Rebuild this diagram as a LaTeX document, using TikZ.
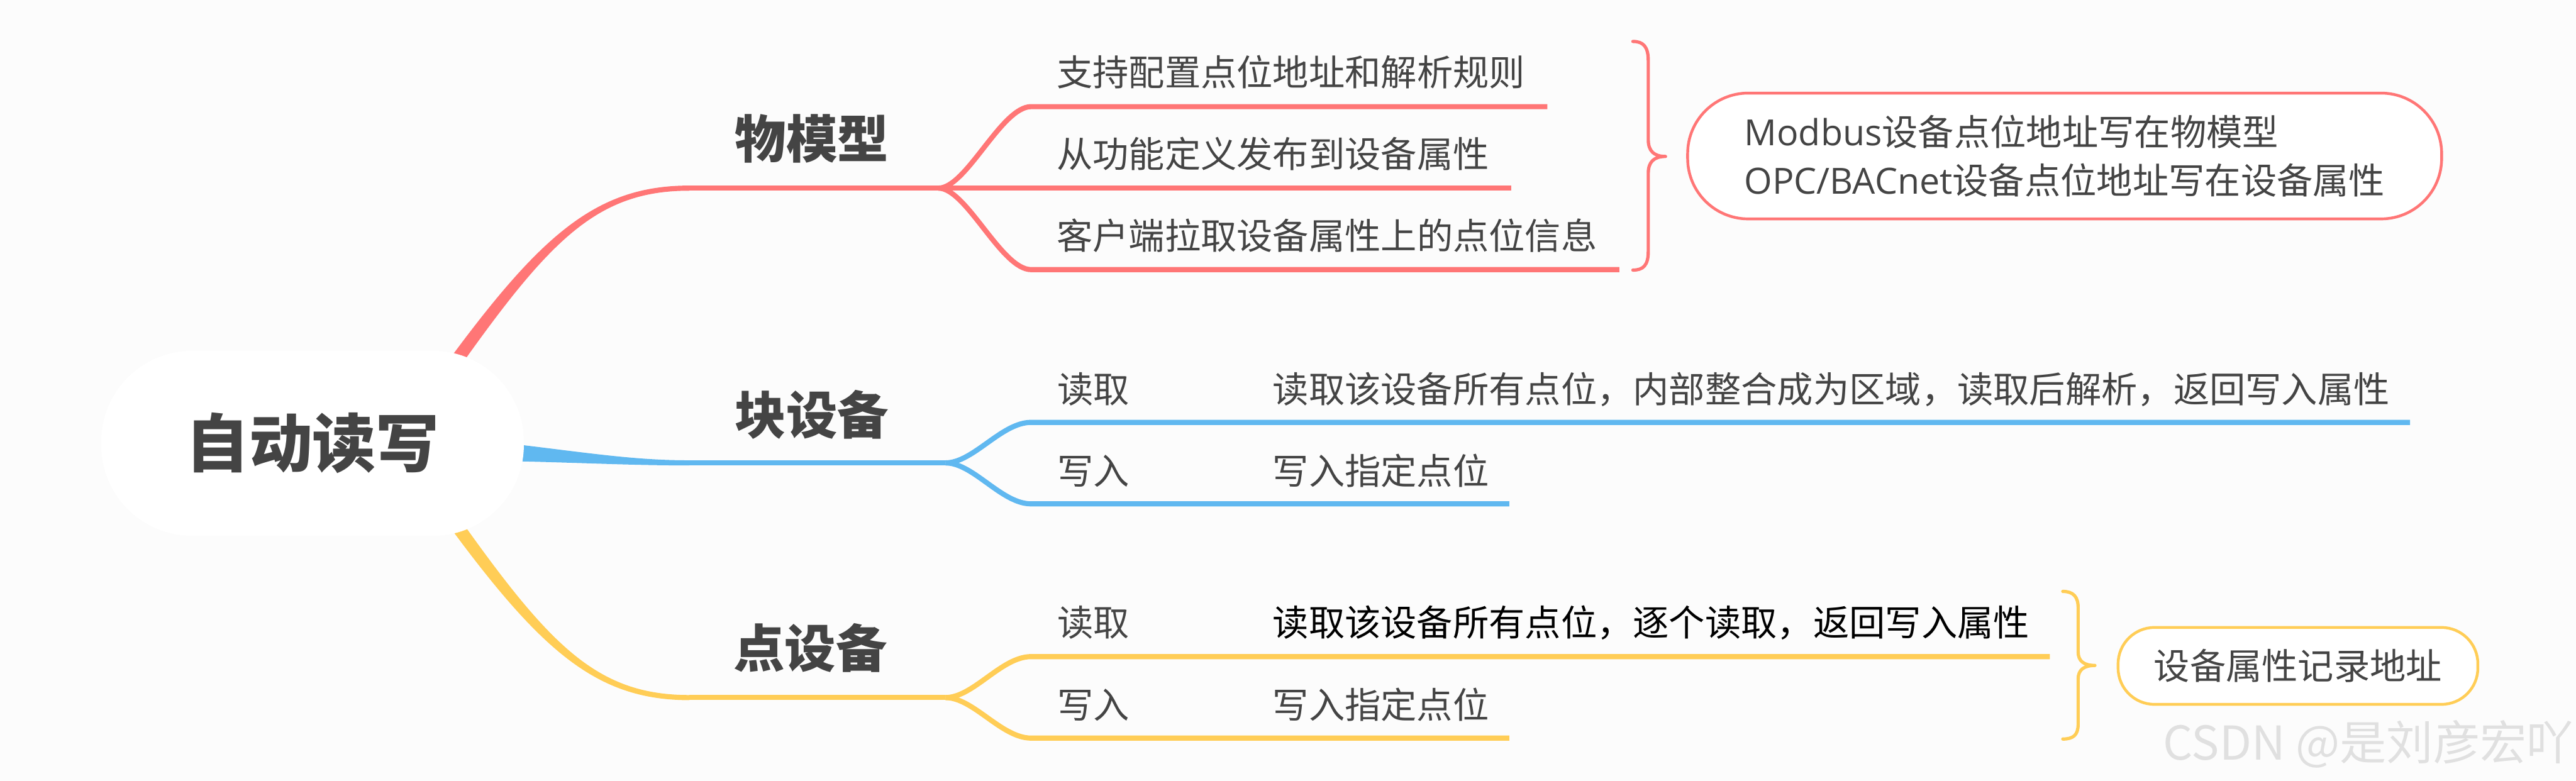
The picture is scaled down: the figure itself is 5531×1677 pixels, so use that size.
\documentclass[tikz,border=0pt]{standalone}
\usepackage{fontspec}
\setmainfont{Noto Sans CJK SC}
\newfontfamily\latinf{Open Sans}
\definecolor{bgc}{HTML}{FCFCFC}
\definecolor{tc}{HTML}{444444}
\definecolor{redc}{HTML}{FF7676}
\definecolor{bluec}{HTML}{60B8F0}
\definecolor{yelc}{HTML}{FFCD56}
\definecolor{wmc}{HTML}{E0E0E0}
\pgfdeclarelayer{bglayer}
\pgfsetlayers{bglayer,main}
\tikzset{
  txt/.style={font=\fontsize{22pt}{29.3pt}\selectfont, text=tc, inner sep=0pt},
  lbl/.style={font=\fontsize{31.3pt}{36pt}\selectfont\bfseries, text=tc, inner sep=0pt},
  rootbox/.style={fill=white, rounded corners=1.95cm, minimum width=9.07cm, minimum height=3.97cm, inner sep=0pt, font=\fontsize{38.7pt}{44pt}\selectfont\bfseries, text=tc},
  sumbox/.style={draw, fill=white, line width=0.06cm, inner sep=0pt, text=tc, font=\fontsize{22pt}{29.3pt}\selectfont},
  twig/.style={line width=0.11cm},
  bracel/.style={line width=0.07cm, line join=round, line cap=round},
}
\begin{document}
\begin{tikzpicture}[x=0.01cm,y=-0.01cm]
\useasboundingbox (0,0) rectangle (5531,1677);

% central node
\node[rootbox] (root) at (671,952) {自动读写};

% main labels
\node[lbl, anchor=base] (l1) at (1743,339) {物模型};
\node[lbl, anchor=base] (l2) at (1743,932) {块设备};
\node[lbl, anchor=base] (l3) at (1740,1433) {点设备};

% red leaves
\node[txt, anchor=base west] (r1) at (2268,185) {支持配置点位地址和解析规则};
\node[txt, anchor=base west] (r2) at (2268,360) {从功能定义发布到设备属性};
\node[txt, anchor=base west] (r3) at (2268,536) {客户端拉取设备属性上的点位信息};

% blue leaves
\node[txt, anchor=base west] (b1k) at (2270,865) {读取};
\node[txt, anchor=base west] (b1v) at (2732,865) {读取该设备所有点位，内部整合成为区域，读取后解析，返回写入属性};
\node[txt, anchor=base west] (b2k) at (2270,1040) {写入};
\node[txt, anchor=base west] (b2v) at (2732,1040) {写入指定点位};

% yellow leaves
\node[txt, anchor=base west] (y1k) at (2270,1366) {读取};
\node[txt, anchor=base west, text=black] (y1v) at (2732,1366) {读取该设备所有点位，逐个读取，返回写入属性};
\node[txt, anchor=base west] (y2k) at (2270,1543) {写入};
\node[txt, anchor=base west] (y2v) at (2732,1543) {写入指定点位};

% summary boxes
\node[sumbox, draw=redc, rounded corners=1.3cm, minimum width=16.18cm, minimum height=2.7cm, align=left] (rbox) at (4433,335)
  {{\latinf Modbus}设备点位地址写在物模型\\{\latinf OPC/BACnet}设备点位地址写在设备属性};
\node[sumbox, draw=yelc, rounded corners=0.78cm, minimum width=7.72cm, minimum height=1.65cm] (ybox) at (4934,1430) {设备属性记录地址};

% watermark
\node[anchor=base east, inner sep=0pt, text=wmc, font=\fontsize{28.5pt}{30pt}\selectfont] (wm) at (5526,1632) {CSDN @是刘彦宏吖};

% junctions
\coordinate (rj) at (2015,404);
\coordinate (r1s) at (2214,229);
\coordinate (r3s) at (2214,579);
\coordinate (bj) at (2030,994);
\coordinate (b1s) at (2214,907);
\coordinate (b2s) at (2214,1082);
\coordinate (yj) at (2030,1498);
\coordinate (y1s) at (2214,1410);
\coordinate (y2s) at (2214,1585);

\begin{pgfonlayer}{bglayer}
\fill[bgc] (0,0) rectangle (5531,1677);

% red main branch (tapered)
\fill[redc] (953.7,786.8) .. controls (1161,503.6) and (1280,398.5) .. (1480,398.5)
  -- (1480,409.5) .. controls (1280,409.5) and (1179,516.4) .. (976.3,803.2) -- cycle;
\draw[twig,redc] (1480,404) -- (rj) -- (rj -| r2.east) -- ++(47,0);
\draw[twig,redc] (rj) .. controls (2075,404) and (2150,229) .. (r1s) -- (r1s -| r1.east) -- ++(47,0);
\draw[twig,redc] (rj) .. controls (2075,404) and (2150,579) .. (r3s) -- (r3s -| r3.east) -- ++(47,0);

% blue main branch (tapered)
\fill[bluec] (1090,952) .. controls (1260,972) and (1360,988.5) .. (1480,988.5)
  -- (1480,999.5) .. controls (1360,999.5) and (1260,994) .. (1090,990) -- cycle;
\draw[twig,bluec] (1480,994) -- (bj);
\draw[twig,bluec] (bj) .. controls (2090,994) and (2150,907) .. (b1s) -- (b1s -| b1v.east) -- ++(43,0);
\draw[twig,bluec] (bj) .. controls (2090,994) and (2150,1082) .. (b2s) -- (b2s -| b2v.east) -- ++(43,0);

% yellow main branch (tapered)
\fill[yelc] (953.7,1115.2) .. controls (1161,1398.4) and (1280,1503.5) .. (1480,1503.5)
  -- (1480,1492.5) .. controls (1280,1492.5) and (1179,1385.6) .. (976.3,1098.8) -- cycle;
\draw[twig,yelc] (1480,1498) -- (yj);
\draw[twig,yelc] (yj) .. controls (2090,1498) and (2150,1410) .. (y1s) -- (y1s -| y1v.east) -- ++(43,0);
\draw[twig,yelc] (yj) .. controls (2090,1498) and (2150,1585) .. (y2s) -- (y2s -| y2v.east) -- ++(43,0);
\end{pgfonlayer}

% braces
\draw[bracel, redc] (3506,89) .. controls (3528,89) and (3539,100) .. (3539,130) -- (3539,300)
  .. controls (3539,325) and (3552,336) .. (3576,336)
  .. controls (3552,336) and (3539,347) .. (3539,372) -- (3539,540)
  .. controls (3539,570) and (3528,580) .. (3506,580);
\draw[bracel, yelc] (4429,1270) .. controls (4452,1270) and (4462,1282) .. (4462,1305) -- (4462,1400)
  .. controls (4462,1420) and (4475,1429) .. (4498,1429)
  .. controls (4475,1429) and (4462,1438) .. (4462,1458) -- (4462,1555)
  .. controls (4462,1578) and (4452,1587) .. (4429,1587);
\end{tikzpicture}
\end{document}
